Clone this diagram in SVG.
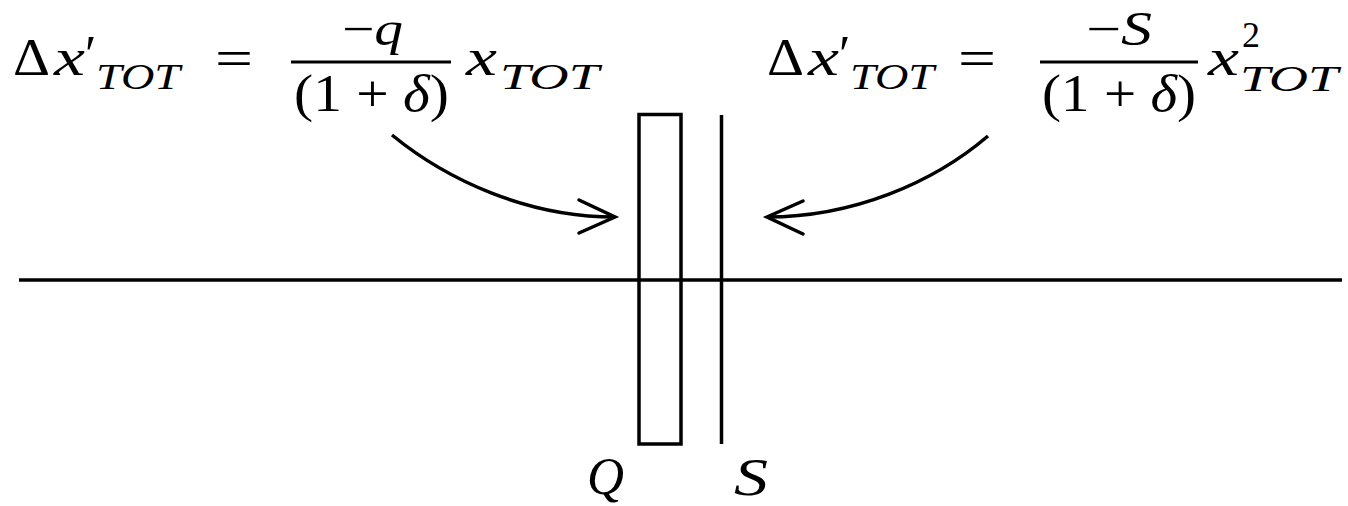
<svg xmlns="http://www.w3.org/2000/svg" width="1348" height="506" viewBox="0 0 1348 506">
<style>
.m{font-family:"Liberation Serif","Times New Roman",serif;font-size:52px;fill:#000}
.i{font-style:italic}
.s{font-size:36px}
.n{font-size:48px}
.ln{stroke:#000;stroke-width:3.5;fill:none}
</style>
<defs>
<marker id="ah" markerUnits="userSpaceOnUse" markerWidth="60" markerHeight="60" refX="0" refY="0" orient="auto" overflow="visible">
<path d="M-36,-17 L0,0 L-36,16" fill="none" stroke="#000" stroke-width="3.5" stroke-linecap="round" stroke-linejoin="miter"/>
</marker>
</defs>
<rect width="1348" height="506" fill="#fff"/>
<g id="formula-q">
<text class="m" x="13" y="75" textLength="37" lengthAdjust="spacingAndGlyphs">Δ</text>
<text class="m i" x="54" y="75" textLength="31" lengthAdjust="spacingAndGlyphs">x</text>
<text class="m" x="85" y="72" font-size="56">′</text>
<text class="m i s" x="96" y="89" textLength="84" lengthAdjust="spacingAndGlyphs">TOT</text>
<text class="m" x="215" y="76" textLength="38" lengthAdjust="spacingAndGlyphs">=</text>
<text class="m n" x="342" y="45" textLength="61" lengthAdjust="spacingAndGlyphs">−<tspan class="i">q</tspan></text>
<line x1="291" y1="62" x2="451" y2="62" stroke="#000" stroke-width="3"/>
<text class="m" x="294" y="111" textLength="155" lengthAdjust="spacingAndGlyphs">(1 + <tspan class="i">δ</tspan>)</text>
<text class="m i" x="466" y="75" textLength="31" lengthAdjust="spacingAndGlyphs">x</text>
<text class="m i s" x="500" y="89" textLength="99" lengthAdjust="spacingAndGlyphs">TOT</text>
</g>
<g id="formula-s">
<text class="m" x="767" y="75" textLength="37" lengthAdjust="spacingAndGlyphs">Δ</text>
<text class="m i" x="808" y="75" textLength="31" lengthAdjust="spacingAndGlyphs">x</text>
<text class="m" x="839" y="72" font-size="56">′</text>
<text class="m i s" x="850" y="89" textLength="84" lengthAdjust="spacingAndGlyphs">TOT</text>
<text class="m" x="958" y="76" textLength="38" lengthAdjust="spacingAndGlyphs">=</text>
<text class="m n" x="1086" y="45" textLength="66" lengthAdjust="spacingAndGlyphs">−<tspan class="i">S</tspan></text>
<line x1="1040" y1="62" x2="1198" y2="62" stroke="#000" stroke-width="3"/>
<text class="m" x="1042" y="111" textLength="154" lengthAdjust="spacingAndGlyphs">(1 + <tspan class="i">δ</tspan>)</text>
<text class="m i" x="1208" y="75" textLength="31" lengthAdjust="spacingAndGlyphs">x</text>
<text class="m s" x="1242" y="47">2</text>
<text class="m i s" x="1240" y="91" textLength="98" lengthAdjust="spacingAndGlyphs">TOT</text>
</g>
<g id="beamline">
<line class="ln" x1="19" y1="280" x2="1342" y2="280"/>
</g>
<g id="Q">
<rect class="ln" x="639" y="114.5" width="42" height="329.5"/>
<text class="m i" x="587" y="494" textLength="37" lengthAdjust="spacingAndGlyphs">Q</text>
</g>
<g id="S">
<line class="ln" x1="721.5" y1="115" x2="721.5" y2="444"/>
<text class="m i" x="734" y="495" textLength="34" lengthAdjust="spacingAndGlyphs">S</text>
</g>
<g id="connectors">
<path class="ln" d="M392,135 C447,180 527,217 615,217" marker-end="url(#ah)"/>
<path class="ln" d="M988,136 C933,183 853,217 767,217" marker-end="url(#ah)"/>
</g>
</svg>
